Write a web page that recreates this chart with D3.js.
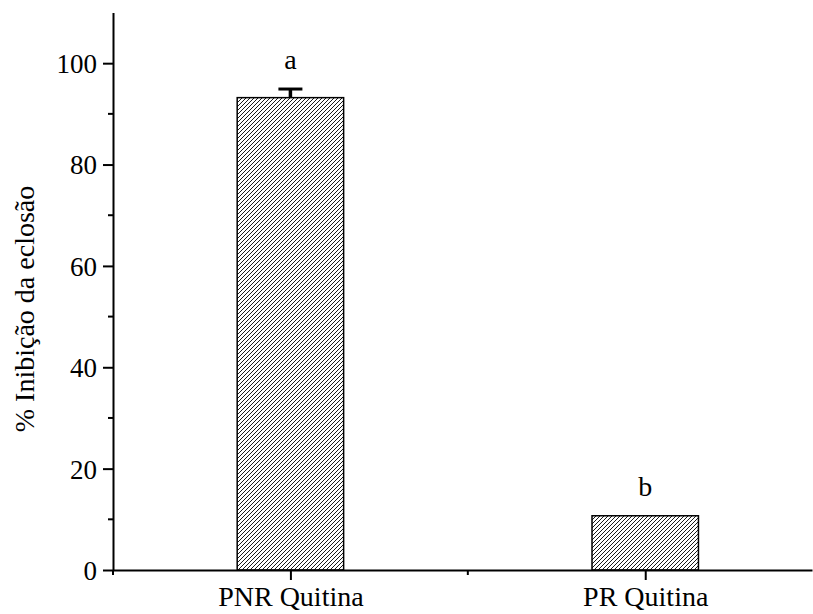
<!DOCTYPE html>
<html>
<head>
<meta charset="utf-8">
<script src="https://cdn.jsdelivr.net/npm/d3@7"></script>
<style>
  body { margin: 0; background: #fff; }
  svg { display: block; }
  svg text { font-family: "Liberation Serif", Tinos, "Times New Roman", serif; fill: #000; }
</style>
</head>
<body>
<div id="chart"></div>
<script>
// data
const categories = ["PNR Quitina", "PR Quitina"];
const positions = [1, 2];
const means = [93.2, 10.7];
const errors = [1.7, 0];
const letters = ["a", "b"];
const yTicks = [0, 20, 40, 60, 80, 100];
const yMinorTicks = [10, 30, 50, 70, 90];
const xMinorTicks = [0.5, 1.5];

const width = 813;
const height = 614;

const svg = d3
  .select("#chart")
  .append("svg")
  .attr("width", width)
  .attr("height", height);

const x = d3.scaleLinear().domain([0.5, 2.47]).range([113, 812]);
const y = d3.scaleLinear().domain([0, 110]).range([570, 12.5]);
const barWidth = 0.3; // in x units

// hatch pattern for the bars
svg
  .append("defs")
  .append("pattern")
  .attr("id", "hatch")
  .attr("patternUnits", "userSpaceOnUse")
  .attr("width", 4)
  .attr("height", 4)
  .append("path")
  .attr("d", "M-1,1 L1,-1 M0,4 L4,0 M3,5 L5,3")
  .attr("stroke", "#000")
  .attr("stroke-width", 0.9);

// bars
svg
  .selectAll(".bar")
  .data(means)
  .enter()
  .append("rect")
  .attr("class", "bar")
  .attr("x", (d, i) => x(positions[i] - barWidth / 2))
  .attr("width", (d, i) => x(positions[i] + barWidth / 2) - x(positions[i] - barWidth / 2))
  .attr("y", (d) => y(d))
  .attr("height", (d) => y(0) - y(d))
  .attr("fill", "url(#hatch)")
  .attr("stroke", "#000")
  .attr("stroke-width", 1.5);

// error bars (upper half only, as in the figure)
const errG = svg
  .selectAll(".err")
  .data(means.map((m, i) => ({ m, e: errors[i], p: positions[i] })).filter((d) => d.e > 0))
  .enter()
  .append("g")
  .attr("class", "err");

errG
  .append("line")
  .attr("x1", (d) => x(d.p))
  .attr("x2", (d) => x(d.p))
  .attr("y1", (d) => y(d.m))
  .attr("y2", (d) => y(d.m + d.e))
  .attr("stroke", "#000")
  .attr("stroke-width", 3.5);

errG
  .append("line")
  .attr("x1", (d) => x(d.p) - 12)
  .attr("x2", (d) => x(d.p) + 12)
  .attr("y1", (d) => y(d.m + d.e))
  .attr("y2", (d) => y(d.m + d.e))
  .attr("stroke", "#000")
  .attr("stroke-width", 3);

// significance letters
svg
  .selectAll(".letter")
  .data(letters)
  .enter()
  .append("text")
  .attr("class", "letter")
  .attr("x", (d, i) => x(positions[i]))
  .attr("y", (d, i) => y(means[i] + errors[i]) - 20)
  .attr("text-anchor", "middle")
  .attr("font-size", 28)
  .text((d) => d);

// y axis
const yAxis = svg
  .append("g")
  .attr("transform", `translate(${x(0.5)},0)`)
  .call(d3.axisLeft(y).tickValues(yTicks).tickSize(10).tickSizeOuter(0).tickPadding(6));

yAxis.attr("font-family", null);
yAxis.select(".domain").attr("stroke-width", 2);
yAxis.selectAll(".tick line").attr("stroke-width", 2);
yAxis
  .selectAll(".tick text")
  .attr("font-size", 27)
  .attr("dy", "0.35em");

yAxis
  .selectAll(".minor")
  .data(yMinorTicks)
  .enter()
  .append("line")
  .attr("class", "minor")
  .attr("x1", 0)
  .attr("x2", -5)
  .attr("y1", (d) => y(d))
  .attr("y2", (d) => y(d))
  .attr("stroke", "#000")
  .attr("stroke-width", 2);

// x axis
const xAxis = svg
  .append("g")
  .attr("transform", `translate(0,${y(0)})`)
  .call(
    d3
      .axisBottom(x)
      .tickValues(positions)
      .tickFormat((d, i) => categories[i])
      .tickSize(10)
      .tickSizeOuter(0)
  );

xAxis.attr("font-family", null);
xAxis.select(".domain").attr("stroke-width", 2);
xAxis.selectAll(".tick line").attr("stroke-width", 2);
xAxis
  .selectAll(".tick text")
  .attr("font-size", 28)
  .attr("y", 36)
  .attr("dy", 0);

xAxis
  .selectAll(".minor")
  .data(xMinorTicks)
  .enter()
  .append("line")
  .attr("class", "minor")
  .attr("x1", (d) => x(d))
  .attr("x2", (d) => x(d))
  .attr("y1", 0)
  .attr("y2", 5)
  .attr("stroke", "#000")
  .attr("stroke-width", 2);

// y axis title
svg
  .append("text")
  .attr("transform", "translate(34,309) rotate(-90)")
  .attr("text-anchor", "middle")
  .attr("font-size", 28)
  .text("% Inibição da eclosão");
</script>
</body>
</html>
